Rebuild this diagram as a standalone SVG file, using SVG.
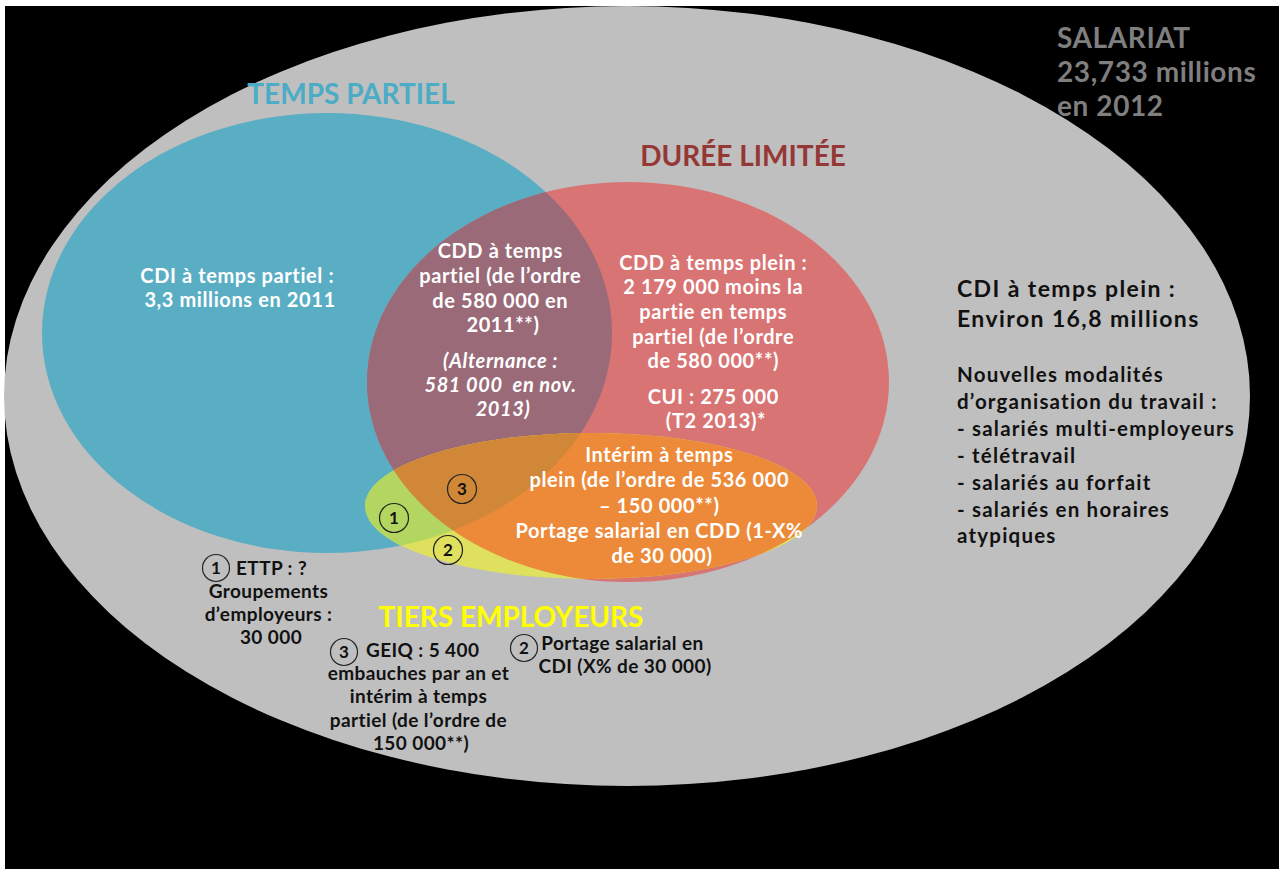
<svg xmlns="http://www.w3.org/2000/svg" width="1279" height="869" viewBox="0 0 1279 869">
  <style>
    text { font-family: Lato, "Open Sans", "Liberation Sans", sans-serif; font-weight: bold; }
    .w { fill: #ffffff; font-size: 20px; letter-spacing: 0.6px; text-anchor: middle; }
    .k { fill: #111111; font-size: 19px; letter-spacing: 0.4px; text-anchor: middle; }
    .kl { fill: #111111; font-size: 20.5px; letter-spacing: 1.2px; }
    .kb { fill: #111111; font-size: 23px; letter-spacing: 1.4px; }
    .title { font-size: 28px; text-anchor: middle; }
    .num { fill: #111111; font-size: 17px; text-anchor: middle; }
    .ring { fill: none; stroke: #222222; stroke-width: 1.2; }
  </style>
  <defs>
    <ellipse id="e-partiel" cx="327" cy="333" rx="285" ry="220"/>
    <ellipse id="e-duree" cx="628" cy="382" rx="261" ry="200"/>
    <ellipse id="e-tiers" cx="591" cy="506" rx="226" ry="73"/>
    <clipPath id="clip-partiel"><use href="#e-partiel"/></clipPath>
    <clipPath id="clip-duree"><use href="#e-duree"/></clipPath>
  </defs>

  <!-- page frame -->
  <rect x="0" y="0" width="1279" height="869" fill="#ffffff"/>
  <rect x="5" y="6" width="1274" height="863" fill="#000000"/>

  <!-- all employees -->
  <g id="salariat">
    <ellipse cx="627" cy="396" rx="623" ry="390" fill="#bfbfbf"/>
    <text class="title" style="text-anchor:start; letter-spacing:0.6px" fill="#7f7f7f">
      <tspan x="1057" y="48">SALARIAT</tspan>
      <tspan x="1057" y="82">23,733 millions</tspan>
      <tspan x="1057" y="116">en 2012</tspan>
    </text>
    <text class="kb">
      <tspan x="957" y="297">CDI à temps plein :</tspan>
      <tspan x="957" y="327">Environ 16,8 millions</tspan>
    </text>
    <text class="kl">
      <tspan x="957" y="382">Nouvelles modalités</tspan>
      <tspan x="957" y="409">d’organisation du travail :</tspan>
      <tspan x="957" y="436">- salariés multi-employeurs</tspan>
      <tspan x="957" y="463">- télétravail</tspan>
      <tspan x="957" y="490">- salariés au forfait</tspan>
      <tspan x="957" y="517">- salariés en horaires</tspan>
      <tspan x="957" y="543">atypiques</tspan>
    </text>
  </g>

  <!-- part-time -->
  <g id="temps-partiel">
    <use href="#e-partiel" fill="#5aaec4"/>
    <text class="title" x="351" y="104" fill="#4bacc6">TEMPS PARTIEL</text>
    <text class="w">
      <tspan x="240" y="283">CDI à temps partiel :</tspan>
      <tspan x="240" y="307">3,3 millions en 2011</tspan>
    </text>
  </g>

  <!-- fixed-term -->
  <g id="duree-limitee">
    <use href="#e-duree" fill="#d97474"/>
    <text class="title" x="743" y="166" fill="#953735">DURÉE LIMITÉE</text>
    <text class="w">
      <tspan x="716" y="270">CDD à temps plein :</tspan>
      <tspan x="716" y="294">2 179 000 moins la</tspan>
      <tspan x="716" y="319">partie en temps</tspan>
      <tspan x="716" y="344">partiel (de l’ordre</tspan>
      <tspan x="716" y="368">de 580 000**)</tspan>
      <tspan x="716" y="404">CUI : 275 000</tspan>
      <tspan x="716" y="428">(T2 2013)*</tspan>
    </text>
  </g>

  <!-- part-time fixed-term -->
  <g id="cdd-temps-partiel">
    <use href="#e-duree" fill="#9a6a78" clip-path="url(#clip-partiel)"/>
    <text class="w">
      <tspan x="503" y="258">CDD à temps</tspan>
      <tspan x="503" y="283">partiel (de l’ordre</tspan>
      <tspan x="503" y="308">de 580 000 en</tspan>
      <tspan x="503" y="332">2011**)</tspan>
    </text>
    <text class="w" font-style="italic">
      <tspan x="503" y="368">(Alternance :</tspan>
      <tspan x="503" y="392">581 000&#160; en nov.</tspan>
      <tspan x="503" y="416">2013)</tspan>
    </text>
  </g>

  <!-- third-party employers -->
  <g id="tiers-employeurs">
    <use href="#e-tiers" fill="#dfe05e"/>
    <use href="#e-tiers" fill="#b2d65f" clip-path="url(#clip-partiel)"/>
    <use href="#e-tiers" fill="#ec8a3a" clip-path="url(#clip-duree)"/>
    <g clip-path="url(#clip-duree)">
      <use href="#e-tiers" fill="#d08838" clip-path="url(#clip-partiel)"/>
    </g>
    <text class="title" x="511" y="627" fill="#ffff00">TIERS EMPLOYEURS</text>
    <text class="w">
      <tspan x="662" y="462">Intérim à temps</tspan>
      <tspan x="662" y="487">plein (de l’ordre de 536 000</tspan>
      <tspan x="662" y="513">– 150 000**)</tspan>
      <tspan x="662" y="538">Portage salarial en CDD (1-X%</tspan>
      <tspan x="662" y="563">de 30 000)</tspan>
    </text>
  </g>

  <!-- numbered markers inside the sets -->
  <g id="marker-1">
    <circle class="ring" cx="394" cy="518" r="14.5"/>
    <text class="num" x="394" y="524">1</text>
  </g>
  <g id="marker-2">
    <circle class="ring" cx="448" cy="550" r="14.5"/>
    <text class="num" x="448" y="556">2</text>
  </g>
  <g id="marker-3">
    <circle class="ring" cx="462" cy="489" r="14.5"/>
    <text class="num" x="462" y="495">3</text>
  </g>

  <!-- notes below the sets -->
  <g id="note-1">
    <circle class="ring" cx="216" cy="568" r="13.5"/>
    <text class="num" x="216" y="574">1</text>
    <text class="k" style="text-anchor:start" x="236" y="575">ETTP : ?</text>
    <text class="k">
      <tspan x="271" y="598">Groupements</tspan>
      <tspan x="271" y="621">d’employeurs :</tspan>
      <tspan x="271" y="644">30 000</tspan>
    </text>
  </g>
  <g id="note-3">
    <circle class="ring" cx="344" cy="652" r="13.5"/>
    <text class="num" x="344" y="658">3</text>
    <text class="k" style="text-anchor:start" x="366" y="657">GEIQ : 5 400</text>
    <text class="k">
      <tspan x="421" y="680">embauches par an et</tspan>
      <tspan x="421" y="703">intérim à temps</tspan>
      <tspan x="421" y="727">partiel (de l’ordre de</tspan>
      <tspan x="421" y="750">150 000**)</tspan>
    </text>
  </g>
  <g id="note-2">
    <circle class="ring" cx="524" cy="648" r="13.5"/>
    <text class="num" x="524" y="654">2</text>
    <text class="k">
      <tspan x="625" y="650">Portage salarial en</tspan>
      <tspan x="625" y="673">CDI (X% de 30 000)</tspan>
    </text>
  </g>
</svg>
